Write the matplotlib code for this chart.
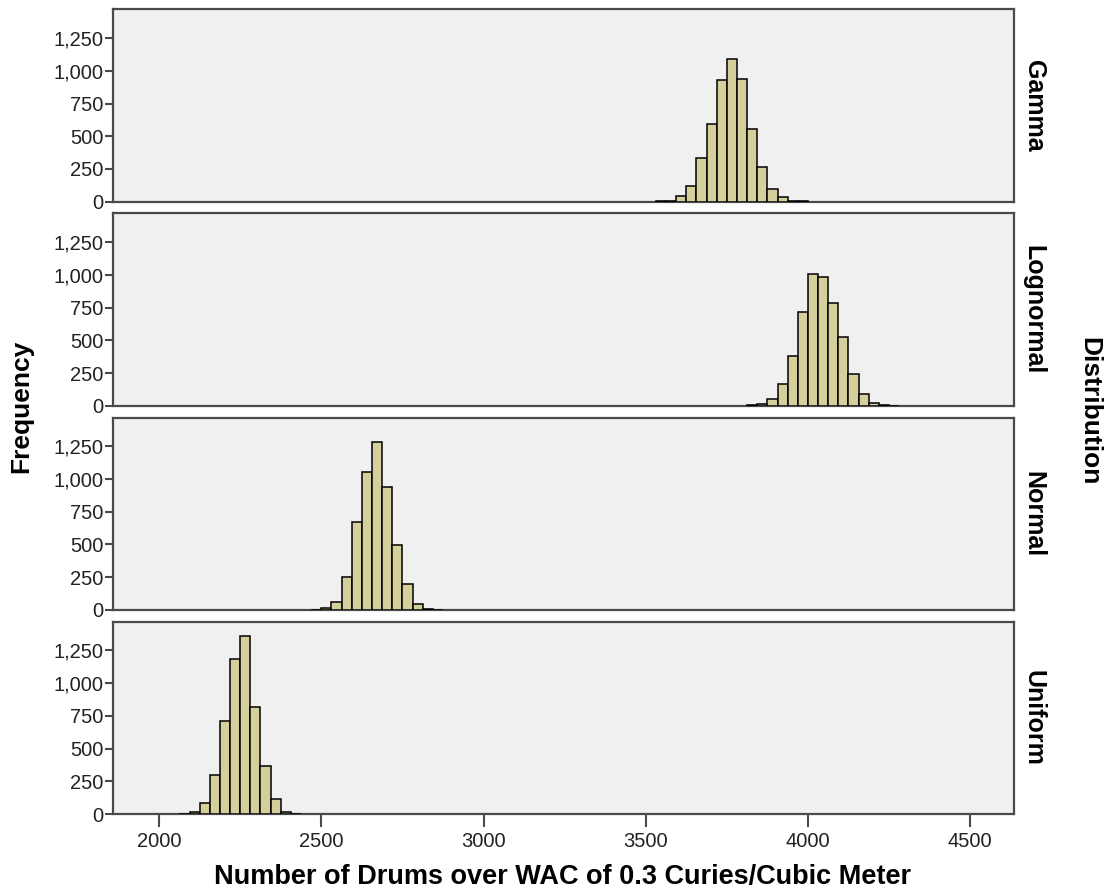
import matplotlib
matplotlib.use("Agg")
import matplotlib.pyplot as plt
from matplotlib.ticker import FuncFormatter
import numpy as np

# histogram data (bin width shared by all panels)
bin_width = 31.25
panels = ["Gamma", "Lognormal", "Normal", "Uniform"]

gamma_start = 3531.25
gamma_counts = [2, 6, 44, 120, 331, 591, 931, 1089, 941, 553, 268, 99, 36, 6, 2]

lognormal_start = 3812.5
lognormal_counts = [3, 10, 51, 168, 377, 714, 1008, 985, 786, 526, 243, 92, 21, 5, 2]

normal_start = 2468.75
normal_counts = [2, 12, 64, 255, 668, 1056, 1280, 941, 495, 196, 43, 8, 2]

uniform_start = 2062.5
uniform_counts = [2, 13, 83, 298, 710, 1182, 1359, 821, 366, 116, 14, 2]

starts = [gamma_start, lognormal_start, normal_start, uniform_start]
counts = [gamma_counts, lognormal_counts, normal_counts, uniform_counts]

y_ticks = [0, 250, 500, 750, 1000, 1250]
x_ticks = [2000, 2500, 3000, 3500, 4000, 4500]

plt.rcParams['font.family'] = ['Liberation Sans', 'DejaVu Sans']

fig, axes = plt.subplots(4, 1, figsize=(11.05, 8.96), dpi=100, sharex=True)
fig.subplots_adjust(left=0.1023, right=0.9176, bottom=0.0915, top=0.9896, hspace=0.061)

for ax, name, st, c in zip(axes, panels, starts, counts):
    c = np.array(c)
    lefts = st + np.arange(len(c)) * bin_width
    ax.bar(lefts, c, width=bin_width, align='edge', color='#d5cf9b',
           edgecolor='black', linewidth=1.1, zorder=3)
    ax.set_facecolor('#f0f0f0')
    ax.set_xlim(1858, 4635)
    ax.set_ylim(0, 1470)
    ax.set_yticks(y_ticks)
    ax.yaxis.set_major_formatter(FuncFormatter(lambda v, p: f"{int(v):,}"))
    for s in ax.spines.values():
        s.set_color('#4a4a4a')
        s.set_linewidth(1.6)
    ax.tick_params(axis='y', length=6, width=1.5, color='#4a4a4a', labelsize=14.5,
                   labelcolor='#222222', pad=1)
    ax.tick_params(axis='x', length=9, width=1.5, color='#4a4a4a', labelsize=14.5,
                   labelcolor='#222222', pad=4)
    ax.text(1.022, 0.5, name, transform=ax.transAxes, rotation=-90,
            ha='center', va='center', fontsize=18, fontweight='bold')

for ax in axes[:-1]:
    ax.tick_params(axis='x', bottom=False, labelbottom=False)

axes[-1].set_xticks(x_ticks)

fig.text(0.019, 0.546, "Frequency", rotation=90, ha='center', va='center',
         fontsize=19, fontweight='bold')
fig.text(0.986, 0.541, "Distribution", rotation=-90, ha='center', va='center',
         fontsize=19, fontweight='bold')
fig.text(0.509, 0.021, "Number of Drums over WAC of 0.3 Curies/Cubic Meter",
         ha='center', va='center', fontsize=19.5, fontweight='bold')

plt.savefig('out.png', dpi=100)
